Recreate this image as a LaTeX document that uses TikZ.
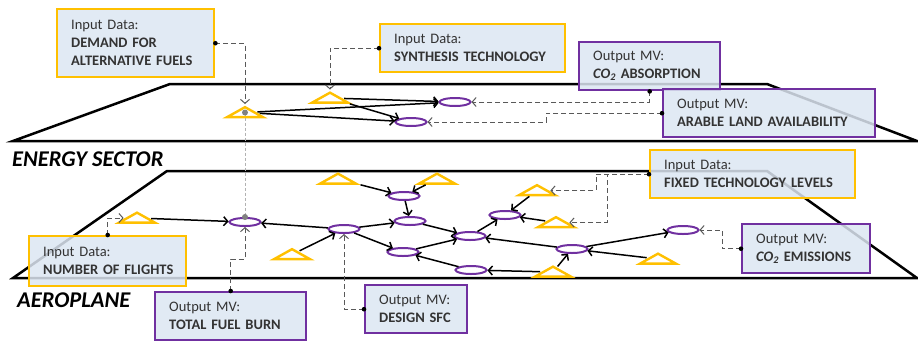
\documentclass[tikz,border=0pt]{standalone}
\usepackage{fontspec}
\setmainfont{Carlito}
\usepackage{tikz}
\usetikzlibrary{shapes.geometric, arrows.meta, positioning, calc}
\definecolor{fuelyellow}{HTML}{FFC000}
\definecolor{mvpurple}{HTML}{7030A0}
\definecolor{boxblue}{HTML}{DCE6F2}
\definecolor{linkgray}{HTML}{595959}
\newcommand{\boxline}[1]{\mbox{\textbf{#1}}}

\begin{document}
\begin{tikzpicture}[x=1pt, y=-1pt,
    plane/.style={draw=black, line width=2.5pt},
    layer/.style={font=\fontsize{22.5}{25}\selectfont\bfseries\itshape, inner sep=0pt, anchor=base west},
    tri/.style={isosceles triangle, isosceles triangle stretches, shape border rotate=90, draw=fuelyellow, fill=white, line width=2.4pt, minimum width=36pt, minimum height=10pt, inner sep=0pt},
    var/.style={ellipse, draw=mvpurple, fill=white, line width=2pt, minimum width=31pt, minimum height=8pt, inner sep=0pt},
    link/.style={black, line width=1.5pt, -{Straight Barb[length=4pt,width=9pt]}},
    feed/.style={linkgray, line width=1pt, dash pattern=on 5pt off 3pt, -{Straight Barb[length=4pt,width=9pt]}},
    input/.style={rectangle, draw=fuelyellow, line width=2.4pt, fill=boxblue, fill opacity=0.85, text opacity=1, anchor=north west, align=left, inner xsep=14pt, inner ysep=0pt, text=black!80, font=\fontsize{14.5}{18}\selectfont},
    output/.style={input, draw=mvpurple}]

    \useasboundingbox (0,0) rectangle (918,341);

    \draw [plane] (13,141) -- (170,84) -- (767,84) -- (917,141) -- cycle;
    \draw [plane] (13,278) -- (167,171) -- (767,171) -- (917,278) -- cycle;
    \node [layer] (energy) at (12,166) {ENERGY SECTOR};
    \node [layer] (aero) at (17,307) {AEROPLANE};

    % energy sector
    \node [tri] (t1) at (245,112.5) {};
    \node [tri] (t2) at (330,98) {};
    \node [var] (e1) at (455,102) {};
    \node [var] (e2) at (411,122) {};

    \draw [link] (t1) -- (e1);
    \draw [link] (t1) -- (e2);
    \draw [link] (t2) -- (e1);
    \draw [link] (t2) -- (e2);

    % aeroplane
    \node [tri] (a1) at (137,218) {};
    \node [tri] (a2) at (292,254.5) {};
    \node [tri] (a3) at (338,179) {};
    \node [tri] (a4) at (437,179) {};
    \node [tri] (a6) at (537,190.5) {};
    \node [tri] (a7) at (556,222.5) {};
    \node [tri] (a8) at (658,259) {};
    \node [tri] (a9) at (553,272) {};
    \node [var] (f) at (245,222) {};
    \node [var] (d) at (344,229) {};
    \node [var] (g) at (404,196) {};
    \node [var] (h) at (410,221) {};
    \node [var] (i) at (403,252) {};
    \node [var] (j) at (470,236) {};
    \node [var] (k) at (471,270) {};
    \node [var] (l) at (505,215) {};
    \node [var] (m) at (572,249) {};
    \node [var] (n) at (683,230) {};

    \draw [link] (a1) -- (f);
    \draw [link] (d) -- (f);
    \draw [link] (a2) -- (d);
    \draw [link] (d) -- (h);
    \draw [link] (d) -- (i);
    \draw [link] (a3) -- (g);
    \draw [link] (a4) -- (g);
    \draw [link] (g) -- (h);
    \draw [link] (h) -- (j);
    \draw [link] (i) -- (j);
    \draw [link] (k) -- (i);
    \draw [link] (j) -- (l);
    \draw [link] (a6) -- (l);
    \draw [link] (a7) -- (l);
    \draw [link] (m) -- (j);
    \draw [link] (m) -- (n);
    \draw [link] (a8) -- (m);
    \draw [link] (a9) -- (m);
    \draw [link] (a9) -- (k);

    \draw [gray!60, line width=1pt, dash pattern=on 3pt off 2pt] (t1.center) -- (f.north);
    \fill [gray] (t1.center) circle (3pt);
    \fill [gray] (f.north) circle (3pt);

    % data boxes
    \node [input, text width=129pt, minimum height=68pt] (demand) at (56,8) {Input Data:\\\boxline{DEMAND FOR}\\\boxline{ALTERNATIVE FUELS}};
    \node [input, text width=157pt, minimum height=48pt] (synth) at (379,23) {Input Data:\\\boxline{SYNTHESIS TECHNOLOGY}};
    \node [output, text width=113pt, minimum height=48pt] (co2abs) at (578,41) {Output MV:\\\boxline{\textit{CO\textsubscript{2}} ABSORPTION}};
    \node [output, text width=184pt, minimum height=48pt] (arable) at (662,88) {Output MV:\\\boxline{ARABLE LAND AVAILABILITY}};
    \node [input, text width=177pt, minimum height=48pt] (fixed) at (649,149) {Input Data:\\\boxline{FIXED TECHNOLOGY LEVELS}};
    \node [input, text width=129pt, minimum height=50pt] (flights) at (28,235) {Input Data:\\\boxline{NUMBER OF FLIGHTS}};
    \node [output, text width=123pt, minimum height=48pt] (fuel) at (154,291) {Output MV:\\\boxline{TOTAL FUEL BURN}};
    \node [output, text width=74pt, minimum height=48pt] (sfc) at (364,284) {Output MV:\\\boxline{DESIGN SFC}};
    \node [output, text width=100pt, minimum height=49pt] (co2em) at (741,223) {Output MV:\\\boxline{\textit{CO\textsubscript{2}} EMISSIONS}};

    \draw [feed] (demand.east) -| (t1.apex);
    \draw [feed] (synth.west) -| (t2.apex);
    \draw [feed] (co2abs.south) |- (e1.east);
    \draw [feed] (arable.west) -- ++(-116,0) |- (e2.east);
    \draw [feed] (flights.north) |- (a1.180);
    \draw [feed] (fuel.north) -- ++(0,-32) -| (f.south);
    \draw [feed] (sfc.west) -| (d.south);
    \draw [feed] (fixed.west) -- ++(-53,0) |- (a6.0);
    \draw [feed] (fixed.west) -- ++(-42,0) |- (a7.0);
    \draw [feed] (co2em.west) -- ++(-19,0) |- (n.east);
    \fill (demand.east) circle (2.3pt);
    \fill (synth.west) circle (2.3pt);
    \fill (co2abs.south) circle (2.3pt);
    \fill (arable.west) circle (2.3pt);
    \fill (flights.north) circle (2.3pt);
    \fill (fuel.north) circle (2.3pt);
    \fill (sfc.west) circle (2.3pt);
    \fill (fixed.west) circle (2.3pt);
    \fill (co2em.west) circle (2.3pt);
\end{tikzpicture}
\end{document}
